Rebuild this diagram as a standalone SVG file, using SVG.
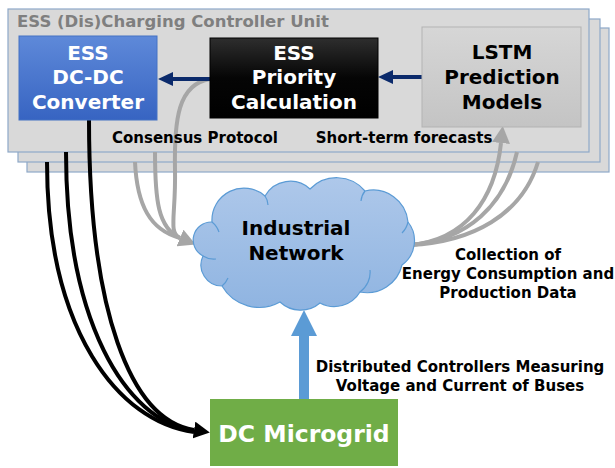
<svg xmlns="http://www.w3.org/2000/svg" width="615" height="468" viewBox="0 0 615 468">
<style>
text{font-family:"DejaVu Sans","Liberation Sans",sans-serif;font-weight:bold;}
.panel{fill:#D9D9D9;stroke:#8EA8C8;stroke-width:1.2;}
.w{fill:#FFFFFF;text-anchor:middle;font-size:20px;}
.k{fill:#000000;text-anchor:middle;font-size:20px;}
.lbl{fill:#000000;font-size:15px;text-anchor:middle;}
.blk{fill:none;stroke:#000000;stroke-width:4;}
.gry{fill:none;stroke:#A6A6A6;stroke-width:4;}
.nvy{fill:none;stroke:#0B2A6B;stroke-width:4;}
</style>
<defs>
<linearGradient id="gBlue" x1="0" y1="0" x2="0" y2="1"><stop offset="0" stop-color="#5E89D9"/><stop offset="1" stop-color="#3764C2"/></linearGradient>
<linearGradient id="gBlack" x1="0" y1="0" x2="0" y2="1"><stop offset="0" stop-color="#2E2E2E"/><stop offset="0.5" stop-color="#050505"/><stop offset="1" stop-color="#000000"/></linearGradient>
<linearGradient id="gGray" x1="0" y1="0" x2="0" y2="1"><stop offset="0" stop-color="#D6D6D6"/><stop offset="1" stop-color="#C4C4C4"/></linearGradient>
<linearGradient id="gCloud" x1="0" y1="0" x2="0" y2="1"><stop offset="0" stop-color="#AEC8EA"/><stop offset="1" stop-color="#8FB4E1"/></linearGradient>
<marker id="mBlk" markerUnits="userSpaceOnUse" markerWidth="16" markerHeight="17" refX="0" refY="8.5" orient="auto"><path d="M0,0 L16,8.5 L0,17 z" fill="#000000"/></marker>
<marker id="mGry" markerUnits="userSpaceOnUse" markerWidth="17" markerHeight="18" refX="0" refY="9" orient="auto"><path d="M0,0 L17,9 L0,18 z" fill="#A6A6A6"/></marker>
<marker id="mNvy" markerUnits="userSpaceOnUse" markerWidth="15" markerHeight="14" refX="0" refY="7" orient="auto"><path d="M0,0 L15,7 L0,14 z" fill="#0B2A6B"/></marker>
</defs>

<g id="controller-unit">
<rect class="panel" x="27" y="28" width="582" height="144"/>
<rect class="panel" x="18" y="19" width="582" height="143"/>
<rect class="panel" x="8" y="9" width="581" height="143"/>
<text x="17" y="27" font-size="16.5" fill="#7F7F7F">ESS (Dis)Charging Controller Unit</text>
</g>

<g id="connectors">
<path class="blk" d="M47,162 C47,330 118,422 194,432"/>
<path class="blk" d="M66,152 C66,320 124,420 194,431"/>
<path class="blk" d="M89,120 C89,310 130,420 194,430" marker-end="url(#mBlk)"/>
<path class="gry" d="M135,162 C137,205 150,230 180,238"/>
<path class="gry" d="M155,152 C155,200 158,228 180,238"/>
<path class="gry" d="M210,79 C178,84 174,120 175,170 C176,215 168,233 180,238" marker-end="url(#mGry)"/>
<path class="gry" d="M410,245 C472,242 522,215 538,162"/>
<path class="gry" d="M410,245 C468,240 505,205 517,152"/>
<path class="gry" d="M410,245 C465,240 495,200 501,143" marker-end="url(#mGry)"/>
<path class="nvy" d="M422,77 L393,77" marker-end="url(#mNvy)"/>
<path class="nvy" d="M210,79 L173,79" marker-end="url(#mNvy)"/>
<path d="M299,399 L299,336 L291,336 L304,310 L317,336 L309,336 L309,399 z" fill="#5B9BD5"/>
</g>

<g id="dcdc-converter">
<rect x="19" y="36" width="138" height="84" fill="url(#gBlue)" stroke="#4472C4" stroke-width="1"/>
<text class="w" x="88" y="60">ESS</text>
<text class="w" x="88" y="84">DC-DC</text>
<text class="w" x="88" y="109">Converter</text>
</g>

<g id="priority-calculation">
<rect x="210" y="38" width="168" height="80" fill="url(#gBlack)" stroke="#000000" stroke-width="1"/>
<text class="w" x="294" y="60">ESS</text>
<text class="w" x="294" y="84">Priority</text>
<text class="w" x="294" y="109">Calculation</text>
</g>

<g id="lstm-models">
<rect x="422" y="27" width="159" height="100" fill="url(#gGray)" stroke="#B3B3B3" stroke-width="1"/>
<text class="k" x="502" y="59">LSTM</text>
<text class="k" x="502" y="84">Prediction</text>
<text class="k" x="502" y="109">Models</text>
</g>

<g id="labels">
<text class="lbl" x="195" y="143">Consensus Protocol</text>
<text class="lbl" x="404" y="143">Short-term forecasts</text>
<text class="lbl" x="508" y="260">Collection of</text>
<text class="lbl" x="508" y="279">Energy Consumption and</text>
<text class="lbl" x="508" y="298">Production Data</text>
<text class="lbl" x="460" y="372">Distributed Controllers Measuring</text>
<text class="lbl" x="460" y="391">Voltage and Current of Buses</text>
</g>

<g id="industrial-network">
<path d="M203,256 A18,18 0 0 1 212,222 A32,32 0 0 1 265,196 A29,29 0 0 1 310,189 A37,37 0 0 1 365,191 A35,35 0 0 1 408,222 A30,30 0 0 1 402,265 A36,36 0 0 1 360,292 A30,30 0 0 1 320,303 A30,30 0 0 1 280,302 A43,43 0 0 1 222,286 A21,21 0 0 1 203,256 z" fill="url(#gCloud)" stroke="#5B9BD5" stroke-width="1.2"/>
<path d="M203,256 A20,20 0 0 0 216,259 M212,222 A22,22 0 0 1 219,232 M265,196 A16,16 0 0 1 268,205 M365,191 A18,18 0 0 0 361,201 M408,222 A22,22 0 0 1 402,233 M360,292 A24,24 0 0 0 370,270 M222,286 A20,20 0 0 0 228,278" fill="none" stroke="#5B9BD5" stroke-width="1.2"/>
<text class="k" x="296" y="235">Industrial</text>
<text class="k" x="296" y="260">Network</text>
</g>

<g id="dc-microgrid">
<rect x="210" y="399" width="188" height="67" fill="#70AD47"/>
<text x="304" y="442" font-size="23.5" fill="#FFFFFF" text-anchor="middle">DC Microgrid</text>
</g>
</svg>
